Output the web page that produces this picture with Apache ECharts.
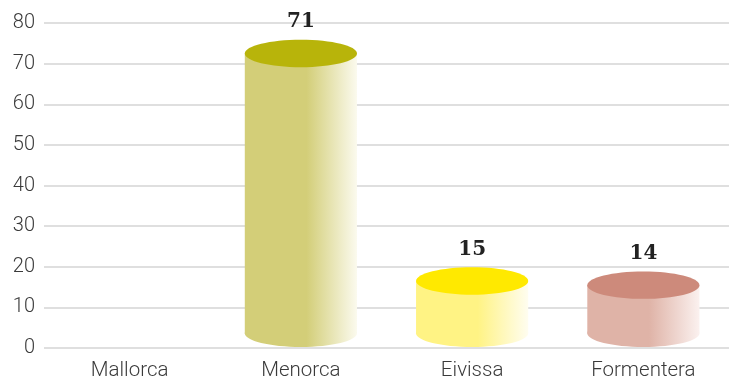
<!DOCTYPE html>
<html>
<head>
<meta charset="utf-8">
<script src="https://cdn.jsdelivr.net/npm/echarts@6/dist/echarts.min.js"></script>
<style>
html,body{margin:0;padding:0;background:#fff;}
#chart{width:729px;height:386px;}
</style>
</head>
<body>
<div id="chart"></div>
<script>
const categories = ['Mallorca', 'Menorca', 'Eivissa', 'Formentera'];
const values = [0, 71, 15, 14];
const yTicks = [0, 10, 20, 30, 40, 50, 60, 70, 80];

const topColors = ['#b8b40a', '#b8b40a', '#ffe900', '#cd8a7b'];
const sideColors = ['#d3ce78', '#d3ce78', '#fff384', '#dfb3a7'];
const endColors = ['#fbfaee', '#fbfaee', '#fffdf0', '#fbf1ef'];

const chart = echarts.init(document.getElementById('chart'));

function renderItem(params, api) {
  const idx = params.dataIndex;
  const v = api.value(1);
  if (!v) return null;
  const top = api.coord([api.value(0), v]);
  const base = api.coord([api.value(0), 0]);
  const band = api.size([1, 0])[0];
  const w = band * 0.655;
  const rx = w / 2;
  const ry = 13.7;
  const cx = top[0];
  const topY = top[1] - 6;
  const botY = base[1] - ry - 1;
  const grad = new echarts.graphic.LinearGradient(0, 0, 1, 0, [
    { offset: 0, color: sideColors[idx] },
    { offset: 0.55, color: sideColors[idx] },
    { offset: 1, color: endColors[idx] }
  ]);
  return {
    type: 'group',
    children: [
      { type: 'ellipse', shape: { cx: cx, cy: botY, rx: rx, ry: ry }, style: { fill: grad } },
      { type: 'rect', shape: { x: cx - rx, y: topY, width: w, height: botY - topY }, style: { fill: grad } },
      { type: 'ellipse', shape: { cx: cx, cy: topY, rx: rx, ry: ry }, style: { fill: topColors[idx] } },
      { type: 'text', x: cx, y: topY - ry - 8,
        style: { text: String(values[idx]), fill: '#222', font: 'bold 20px "DejaVu Serif"', textAlign: 'center', textVerticalAlign: 'bottom' } }
    ]
  };
}

chart.setOption({
  animation: false,
  grid: { left: 44, width: 691, top: 23, bottom: 38 },
  xAxis: {
    type: 'category',
    data: categories,
    axisLine: { show: false },
    axisTick: { show: false },
    axisLabel: { color: '#3a3a3a', fontFamily: 'Roboto', fontWeight: 300, fontSize: 20.5, margin: 12 }
  },
  yAxis: {
    type: 'value',
    min: yTicks[0],
    max: yTicks[yTicks.length - 1],
    interval: 10,
    axisLine: { show: false },
    axisTick: { show: false },
    axisLabel: { color: '#3a3a3a', fontFamily: 'Roboto', fontWeight: 300, fontSize: 20, margin: 9 }
  ,
    splitLine: { lineStyle: { color: '#d4d4d4', width: 1.5 } }
  },
  series: [{
    type: 'custom',
    renderItem: renderItem,
    data: categories.map((c, i) => [i, values[i]]),
    clip: false
  }]
});
</script>
</body>
</html>
